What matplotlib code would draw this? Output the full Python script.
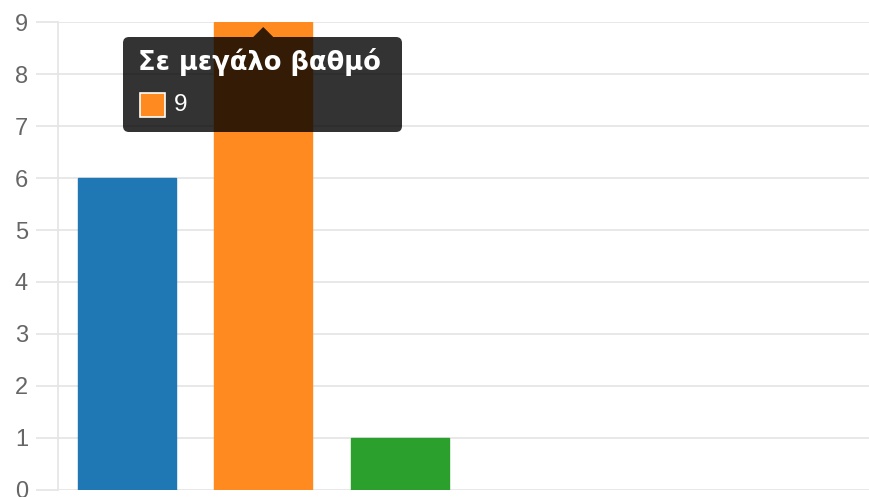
import matplotlib
matplotlib.use("Agg")
import matplotlib.pyplot as plt
from matplotlib.patches import FancyBboxPatch, Polygon, Rectangle

# data
categories = ["Σε πολύ μεγάλο βαθμό", "Σε μεγάλο βαθμό", "Σε μέτριο βαθμό"]
values = [6, 9, 1]
colors = ["#1f77b4", "#ff8a1f", "#2ca02c"]
y_ticks = [0, 1, 2, 3, 4, 5, 6, 7, 8, 9]
hover_idx = 1

plt.rcParams["font.family"] = ["Liberation Sans", "DejaVu Sans"]

W, H = 869, 497
fig = plt.figure(figsize=(W / 100, H / 100), dpi=100)
ax = fig.add_axes([58.5 / W, 7 / H, 1 - 58.5 / W, 468 / H])

x = list(range(len(categories)))
ax.bar(x, values, width=0.72, color=colors, edgecolor=colors, linewidth=1, zorder=2)

cat_w = 136.5  # pixel width of one category
ax.set_xlim(-0.5, -0.5 + (W - 58.5) / cat_w)
ax.set_ylim(0, 9)
ax.set_yticks(y_ticks)
ax.set_xticks([])
ax.grid(axis="y", color="#e6e6e6", linewidth=1.3, zorder=0)
ax.tick_params(axis="y", length=16, width=1.3, color="#e6e6e6", pad=6,
               labelsize=17, labelcolor="#666666")
for s in ["top", "right", "bottom"]:
    ax.spines[s].set_visible(False)
ax.spines["left"].set_color("#e6e6e6")
ax.spines["left"].set_linewidth(1.3)

# tooltip in pixel coordinates
fig.canvas.draw()
cx, top = ax.transData.transform((x[hover_idx], values[hover_idx]))
tip_y = top - 5
bx0, bx1 = 123, 402
by1 = tip_y - 10
by0 = by1 - 95
box = FancyBboxPatch((bx0 + 6, by0 + 6), bx1 - bx0 - 12, by1 - by0 - 12,
                     boxstyle="round,pad=6", transform=None,
                     facecolor="black", alpha=0.8, edgecolor="none", zorder=5)
fig.patches.append(box)
caret = Polygon([(cx - 10, by1), (cx + 10, by1), (cx, tip_y)], closed=True,
                transform=None, facecolor="black", alpha=0.8, edgecolor="none", zorder=5)
fig.patches.append(caret)
fig.text(138 / W, (H - 62) / H, categories[hover_idx], color="white", fontsize=18.5,
         fontweight="bold", family="DejaVu Sans", va="center", ha="left", zorder=7)
sq = Rectangle((140, H - 117), 25, 24, transform=None, facecolor=colors[hover_idx],
               edgecolor="white", linewidth=1.2, zorder=6)
fig.patches.append(sq)
fig.text(174 / W, (H - 105) / H, str(values[hover_idx]), color="white", fontsize=17.5,
         va="center", ha="left", zorder=7)

fig.savefig("out.png", dpi=100)
